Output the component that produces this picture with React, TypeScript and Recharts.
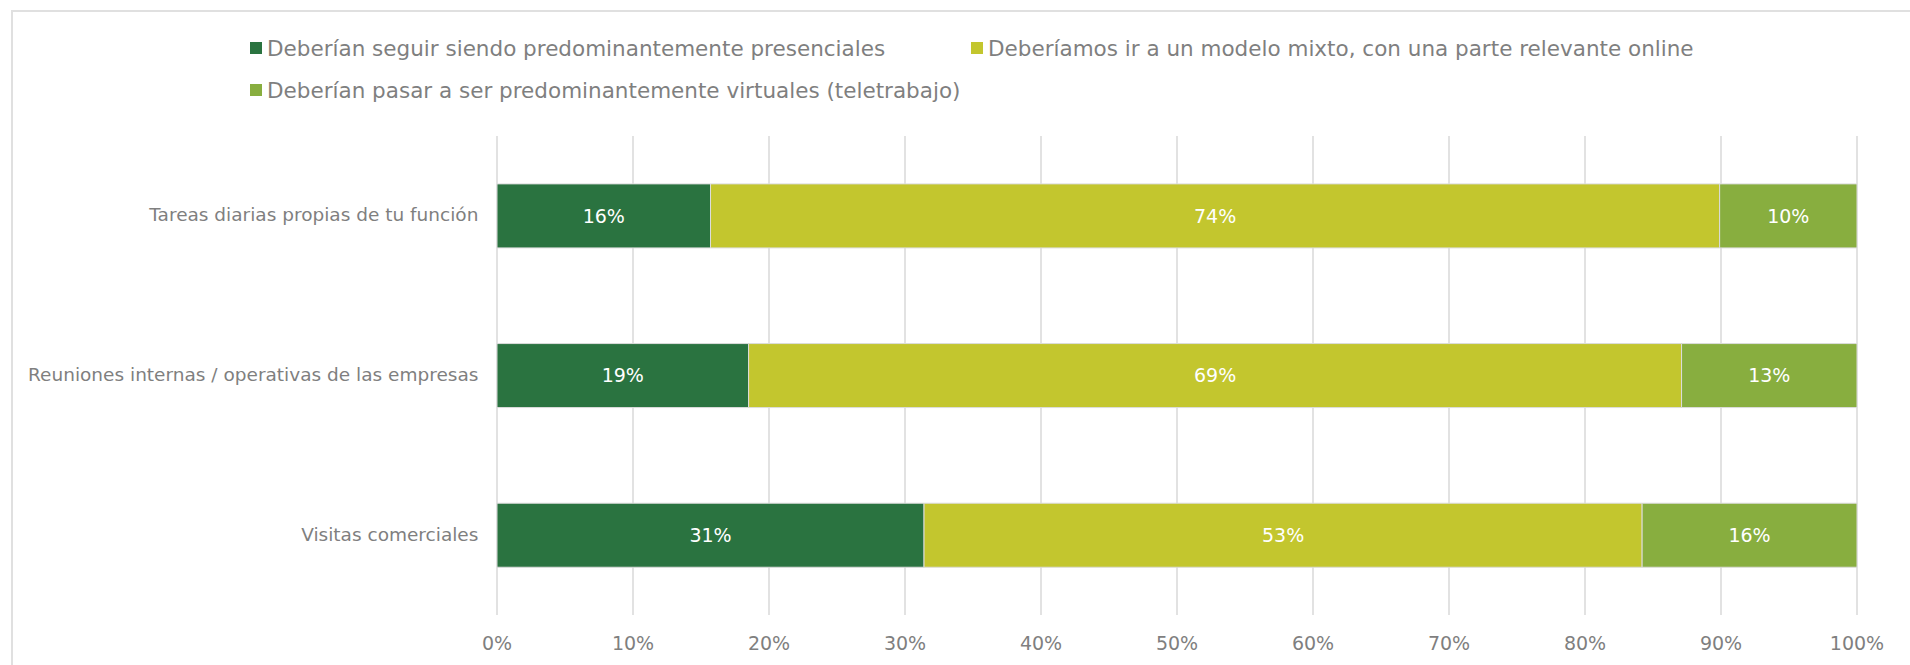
import React from 'react';
import { BarChart, Bar, XAxis, YAxis, CartesianGrid, Legend, LabelList } from 'recharts';

const categories = [
  'Tareas diarias propias de tu función',
  'Reuniones internas / operativas de las empresas',
  'Visitas comerciales',
];
const presenciales = [15.7, 18.5, 31.4];
const mixto = [74.2, 68.6, 52.8];
const virtuales = [10.1, 12.9, 15.8];
const seriesNames = [
  'Deberían seguir siendo predominantemente presenciales',
  'Deberíamos ir a un modelo mixto, con una parte relevante online',
  'Deberían pasar a ser predominantemente virtuales (teletrabajo)',
];
const seriesColors = ['#2A7340', '#C3C62E', '#88AE3F'];
const xTicks = [0, 10, 20, 30, 40, 50, 60, 70, 80, 90, 100];

const FONT = '"DejaVu Sans", sans-serif';
const TEXT = '#7f7f7f';

const data = categories.map((name, i) => ({
  name,
  presenciales: presenciales[i],
  mixto: mixto[i],
  virtuales: virtuales[i],
}));

const XTick = (props: any) => {
  const { x, y, payload } = props;
  return (
    <text x={x} y={y + 14} dy="0.71em" textAnchor="middle" fill={TEXT} fontSize={19} fontFamily={FONT}>
      {payload.value}%
    </text>
  );
};

const YTick = (props: any) => {
  const { x, y, payload } = props;
  return (
    <text x={x - 10.6} y={y} dy="0.3em" textAnchor="end" fill={TEXT} fontSize={18.5} fontFamily={FONT}>
      {payload.value}
    </text>
  );
};

const LegendContent = (props: any) => {
  const payload = [...(props.payload || [])].sort(
    (a: any, b: any) => seriesNames.indexOf(a.value) - seriesNames.indexOf(b.value)
  );
  return (
    <div
      style={{
        height: 110,
        boxSizing: 'border-box',
        paddingTop: 27,
        paddingLeft: 250,
        display: 'grid',
        gridTemplateColumns: '721px 721px',
        gridAutoRows: '42px',
        alignContent: 'start',
        fontFamily: FONT,
      }}
    >
      {payload.map((p: any, i: number) => (
        <div key={i} style={{ display: 'flex', alignItems: 'center', height: 42 }}>
          <span style={{ width: 12, height: 12, background: p.color, display: 'inline-block', marginRight: 5, flex: 'none' }} />
          <span style={{ fontSize: 21.5, color: TEXT, whiteSpace: 'nowrap' }}>{p.value}</span>
        </div>
      ))}
    </div>
  );
};

const fmt = (v: any) => `${Math.round(Number(v))}%`;

export default function App() {
  return (
    <div style={{ position: 'relative', width: 1910, height: 665, overflow: 'hidden', fontFamily: FONT, background: '#fff' }}>
      <style>{`body{margin:0;overflow:hidden}`}</style>
      <div
        style={{
          position: 'absolute',
          left: 11,
          top: 10,
          width: 2100,
          height: 900,
          border: '2px solid #e0e0e0',
          boxSizing: 'border-box',
        }}
      />
      <div style={{ position: 'absolute', left: 0, top: 0 }}>
        <BarChart
          width={1910}
          height={665}
          data={data}
          layout="vertical"
          margin={{ top: 26, right: 53, bottom: 10, left: 0 }}
          barCategoryGap="30%"
        >
          <CartesianGrid horizontal={false} stroke="#d9d9d9" strokeWidth={1.5} />
          <XAxis
            type="number"
            domain={[0, 100]}
            ticks={xTicks}
            tick={<XTick />}
            axisLine={false}
            tickLine={false}
            height={40}
            interval={0}
          />
          <YAxis type="category" dataKey="name" width={497} tick={<YTick />} axisLine={false} tickLine={false} />
          <Legend
            verticalAlign="top"
            content={<LegendContent />}
            wrapperStyle={{ top: 0, left: 0, width: 1910, height: 110 }}
          />
          <Bar dataKey="presenciales" name={seriesNames[0]} stackId="a" fill={seriesColors[0]} stroke="#dcdcdc" strokeWidth={1} isAnimationActive={false}>
            <LabelList dataKey="presenciales" position="center" fill="#fff" fontSize={19} formatter={fmt} fontFamily={FONT} />
          </Bar>
          <Bar dataKey="mixto" name={seriesNames[1]} stackId="a" fill={seriesColors[1]} stroke="#dcdcdc" strokeWidth={1} isAnimationActive={false}>
            <LabelList dataKey="mixto" position="center" fill="#fff" fontSize={19} formatter={fmt} fontFamily={FONT} />
          </Bar>
          <Bar dataKey="virtuales" name={seriesNames[2]} stackId="a" fill={seriesColors[2]} stroke="#dcdcdc" strokeWidth={1} isAnimationActive={false}>
            <LabelList dataKey="virtuales" position="center" fill="#fff" fontSize={19} formatter={fmt} fontFamily={FONT} />
          </Bar>
        </BarChart>
      </div>
    </div>
  );
}
